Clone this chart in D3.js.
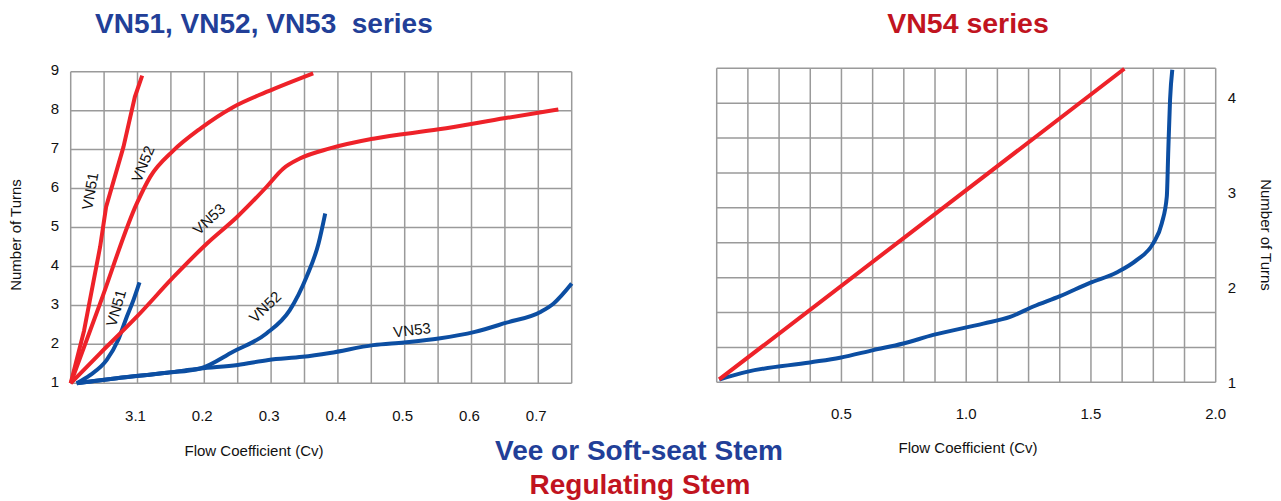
<!DOCTYPE html>
<html>
<head>
<meta charset="utf-8">
<script src="https://cdn.jsdelivr.net/npm/d3@7/dist/d3.min.js"></script>
<style>
  html, body { margin: 0; padding: 0; background: #fff; }
  svg { display: block; font-family: "Liberation Sans", Arial, sans-serif; }
</style>
</head>
<body>
<svg id="chart" width="1281" height="501"></svg>
<script>
// ---------- Left chart data (Cv, turns) ----------
const leftXTicks = [0.1, 0.2, 0.3, 0.4, 0.5, 0.6, 0.7];
const leftXTickLabels = ["3.1", "0.2", "0.3", "0.4", "0.5", "0.6", "0.7"];
const leftYTicks = [1, 2, 3, 4, 5, 6, 7, 8, 9];

const redVN51 = [[0, 1], [0.02, 2.35], [0.044, 4.5], [0.053, 5.53], [0.079, 7.07], [0.096, 8.35], [0.107, 8.9]];
const redVN52 = [[0, 1], [0.044, 3.05], [0.099, 5.62], [0.119, 6.3], [0.154, 6.98], [0.194, 7.54], [0.243, 8.09], [0.293, 8.48], [0.363, 8.96]];
const redVN53 = [[0, 1], [0.044, 1.77], [0.099, 2.71], [0.154, 3.73], [0.204, 4.59], [0.249, 5.27], [0.293, 6.04], [0.318, 6.51], [0.343, 6.77], [0.388, 7.03], [0.453, 7.28], [0.551, 7.52], [0.651, 7.81], [0.73, 8.03]];
const blueVN51 = [[0.009, 1], [0.029, 1.21], [0.054, 1.6], [0.071, 2.11], [0.084, 2.71], [0.094, 3.14], [0.103, 3.59]];
const blueVN52 = [[0.009, 1], [0.069, 1.13], [0.144, 1.27], [0.194, 1.38], [0.243, 1.81], [0.293, 2.28], [0.328, 2.88], [0.353, 3.73], [0.371, 4.59], [0.381, 5.36]];
const blueVN53 = [[0.009, 1], [0.044, 1.08], [0.069, 1.13], [0.144, 1.27], [0.194, 1.38], [0.25, 1.47], [0.296, 1.6], [0.347, 1.68], [0.388, 1.78], [0.453, 1.98], [0.499, 2.05], [0.551, 2.15], [0.605, 2.32], [0.651, 2.55], [0.704, 2.84], [0.723, 3.05], [0.75, 3.56]];

// ---------- Right chart data ----------
const rightXTicks = [0.5, 1.0, 1.5, 2.0];
const rightYTicks = [1, 2, 3, 4];
const redVN54 = [[0.01, 1.03], [0.748, 2.52], [1.634, 4.31]];
const blueVN54 = [[0.01, 1.03], [0.12, 1.11], [0.374, 1.21], [0.494, 1.26], [0.628, 1.34], [0.748, 1.41], [0.868, 1.5], [1.069, 1.62], [1.176, 1.69], [1.269, 1.8], [1.376, 1.91], [1.496, 2.05], [1.603, 2.16], [1.683, 2.29], [1.75, 2.47], [1.784, 2.68], [1.804, 2.96], [1.81, 3.45], [1.817, 3.98], [1.826, 4.3]];

const RED = "#ee2229";
const BLUE = "#0c4ea2";
const TITLE_BLUE = "#223f98";
const TITLE_RED = "#c1141f";
const GRID = "#9a9a9a";

const svg = d3.select("#chart");

// ---------- Left chart ----------
const xL = d3.scaleLinear().domain([0, 0.75]).range([70.7, 571.7]);
const yL = d3.scaleLinear().domain([1, 9]).range([383.3, 71.7]);
const gL = svg.append("g");

gL.append("g").selectAll("line").data(d3.range(0, 16).map(i => i * 0.05)).join("line")
  .attr("x1", d => xL(d)).attr("x2", d => xL(d))
  .attr("y1", yL(9)).attr("y2", yL(1))
  .attr("stroke", GRID).attr("stroke-width", 1.5);
gL.append("g").selectAll("line").data(leftYTicks).join("line")
  .attr("x1", xL(0)).attr("x2", xL(0.75))
  .attr("y1", d => yL(d)).attr("y2", d => yL(d))
  .attr("stroke", GRID).attr("stroke-width", 1.5);

gL.append("g").selectAll("text").data(leftYTicks).join("text")
  .attr("x", 59).attr("y", d => yL(d) - 2).attr("dy", "0.35em")
  .attr("text-anchor", "end").attr("font-size", 15).attr("fill", "#111")
  .text(d => d);
gL.append("g").selectAll("text").data(leftXTicks).join("text")
  .attr("x", (d) => xL(d) - 2).attr("y", 421)
  .attr("text-anchor", "middle").attr("font-size", 15).attr("fill", "#111")
  .text((d, i) => leftXTickLabels[i]);

gL.append("text").attr("transform", "translate(21,235) rotate(-90)")
  .attr("text-anchor", "middle").attr("font-size", 15).attr("fill", "#111").text("Number of Turns");
gL.append("text").attr("x", 254).attr("y", 456)
  .attr("text-anchor", "middle").attr("font-size", 15).attr("fill", "#111").text("Flow Coefficient (Cv)");

const lineL = d3.line().x(d => xL(d[0])).y(d => yL(d[1])).curve(d3.curveMonotoneX);
const lineLlin = d3.line().x(d => xL(d[0])).y(d => yL(d[1])).curve(d3.curveLinear);
[[blueVN52, BLUE, lineL], [blueVN53, BLUE, lineL], [blueVN51, BLUE, lineL],
 [redVN53, RED, lineL], [redVN52, RED, lineL], [redVN51, RED, lineLlin]].forEach(([d, c, gen]) => {
  gL.append("path").attr("d", gen(d)).attr("fill", "none")
    .attr("stroke", c).attr("stroke-width", 4).attr("stroke-linecap", "butt").attr("stroke-linejoin", "round");
});

const curveLabels = [
  { t: "VN51", x: 90, y: 191, a: -80 },
  { t: "VN52", x: 143, y: 164, a: -68 },
  { t: "VN53", x: 209, y: 219, a: -43 },
  { t: "VN51", x: 116, y: 308, a: -74 },
  { t: "VN52", x: 265, y: 307, a: -44 },
  { t: "VN53", x: 412, y: 330, a: -7 }
];
gL.append("g").selectAll("text").data(curveLabels).join("text")
  .attr("transform", d => `translate(${d.x},${d.y}) rotate(${d.a})`)
  .attr("text-anchor", "middle").attr("dy", "0.35em").attr("font-size", 15).attr("fill", "#111")
  .text(d => d.t);

// ---------- Right chart ----------
const xR = d3.scaleLinear().domain([0, 2]).range([716.7, 1215.7]);
const yR = d3.scaleLinear().domain([1, 4.315]).range([382.3, 68.3]);
const gR = svg.append("g");

gR.append("g").selectAll("line").data(d3.range(0, 17).map(i => i * 0.125)).join("line")
  .attr("x1", d => xR(d)).attr("x2", d => xR(d))
  .attr("y1", yR(4.315)).attr("y2", yR(1))
  .attr("stroke", GRID).attr("stroke-width", 1.5);
gR.append("g").selectAll("line").data(d3.range(0, 10).map(i => 1 + i * (3.315 / 9))).join("line")
  .attr("x1", xR(0)).attr("x2", xR(2))
  .attr("y1", d => yR(d)).attr("y2", d => yR(d))
  .attr("stroke", GRID).attr("stroke-width", 1.5);

gR.append("g").selectAll("text").data(rightYTicks).join("text")
  .attr("x", 1232).attr("y", d => yR(d)).attr("dy", "0.35em")
  .attr("text-anchor", "middle").attr("font-size", 15).attr("fill", "#111")
  .text(d => d);
gR.append("g").selectAll("text").data(rightXTicks).join("text")
  .attr("x", d => xR(d)).attr("y", 419)
  .attr("text-anchor", "middle").attr("font-size", 15).attr("fill", "#111")
  .text(d => d.toFixed(1));

gR.append("text").attr("transform", "translate(1261,235) rotate(90)")
  .attr("text-anchor", "middle").attr("font-size", 15).attr("fill", "#111").text("Number of Turns");
gR.append("text").attr("x", 968).attr("y", 453)
  .attr("text-anchor", "middle").attr("font-size", 15).attr("fill", "#111").text("Flow Coefficient (Cv)");

const lineR = d3.line().x(d => xR(d[0])).y(d => yR(d[1])).curve(d3.curveMonotoneX);
[[blueVN54, BLUE], [redVN54, RED]].forEach(([d, c]) => {
  gR.append("path").attr("d", lineR(d)).attr("fill", "none")
    .attr("stroke", c).attr("stroke-width", 4).attr("stroke-linejoin", "round");
});

// ---------- Titles ----------
svg.append("text").attr("x", 95).attr("y", 33).attr("font-size", 28).attr("font-weight", "bold")
  .attr("fill", TITLE_BLUE).attr("xml:space", "preserve").style("white-space", "pre")
  .text("VN51, VN52, VN53  series");
svg.append("text").attr("x", 968).attr("y", 33).attr("text-anchor", "middle").attr("font-size", 28.5).attr("font-weight", "bold")
  .attr("fill", TITLE_RED).text("VN54 series");
svg.append("text").attr("x", 639).attr("y", 460).attr("text-anchor", "middle").attr("font-size", 28).attr("font-weight", "bold")
  .attr("fill", TITLE_BLUE).text("Vee or Soft-seat Stem");
svg.append("text").attr("x", 640).attr("y", 494).attr("text-anchor", "middle").attr("font-size", 28).attr("font-weight", "bold")
  .attr("fill", TITLE_RED).text("Regulating Stem");
</script>
</body>
</html>
